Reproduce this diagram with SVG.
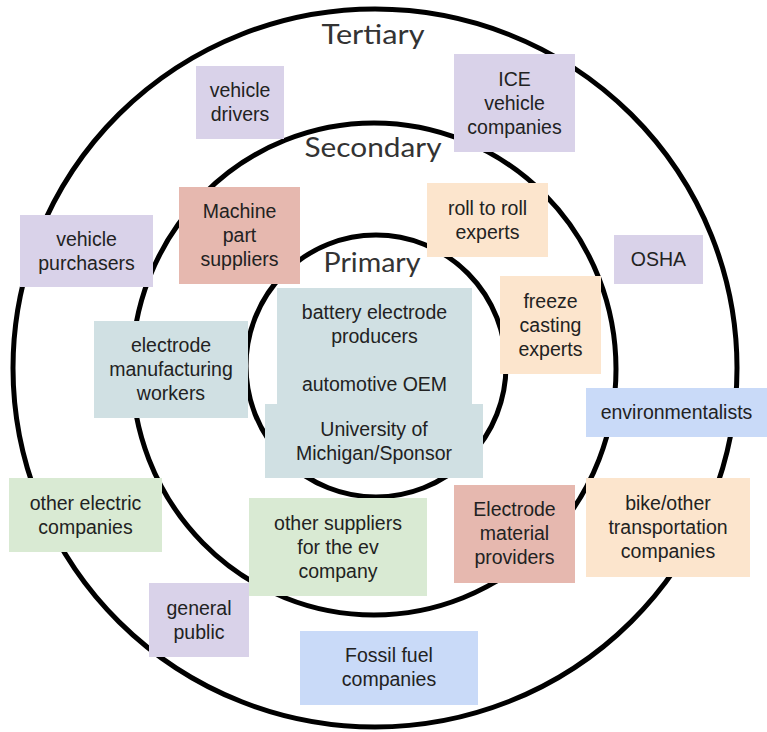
<svg xmlns="http://www.w3.org/2000/svg" width="767" height="732" viewBox="0 0 767 732">
<style>
.ring{fill:none;stroke:#000;stroke-width:5}
.lvl{font-family:Lato,"Open Sans",sans-serif;font-size:26px;fill:#333;text-anchor:middle}
.n text{font-family:"Liberation Sans",Arial,sans-serif;font-size:19.5px;fill:#222;text-anchor:middle}
.lav{fill:#d9d2e9}.sal{fill:#e6b8af}.pch{fill:#fce5cd}.tea{fill:#d0e0e3}.blu{fill:#c9daf8}.grn{fill:#d9ead3}
</style>
<rect width="767" height="732" fill="#fff"/>
<g id="rings">
<ellipse class="ring" cx="375" cy="368" rx="362" ry="359"/>
<ellipse class="ring" cx="374" cy="369" rx="242" ry="246"/>
<ellipse class="ring" cx="376" cy="366" rx="130" ry="131"/>
</g>
<g id="levels">
<text class="lvl" x="373" y="44" textLength="103" lengthAdjust="spacingAndGlyphs">Tertiary</text>
<text class="lvl" x="373" y="157" textLength="137" lengthAdjust="spacingAndGlyphs">Secondary</text>
<text class="lvl" x="372" y="272" textLength="97" lengthAdjust="spacingAndGlyphs">Primary</text>
</g>
<g id="connectors"></g>
<g id="vehicle-drivers" class="n"><rect class="lav" x="196" y="66" width="88" height="73"/><text x="240" y="97">vehicle</text><text x="240" y="121">drivers</text></g>
<g id="ice-vehicle-companies" class="n"><rect class="lav" x="454" y="54" width="121" height="98"/><text x="514.5" y="85.5">ICE</text><text x="514.5" y="109.5">vehicle</text><text x="514.5" y="133.5">companies</text></g>
<g id="vehicle-purchasers" class="n"><rect class="lav" x="20" y="215" width="133" height="72"/><text x="86.5" y="245.5">vehicle</text><text x="86.5" y="269.5">purchasers</text></g>
<g id="machine-part-suppliers" class="n"><rect class="sal" x="179" y="187" width="121" height="97"/><text x="239.5" y="217.5">Machine</text><text x="239.5" y="241.5">part</text><text x="239.5" y="265.5">suppliers</text></g>
<g id="roll-to-roll-experts" class="n"><rect class="pch" x="427" y="183" width="121" height="74"/><text x="487.5" y="214.5">roll to roll</text><text x="487.5" y="238.5">experts</text></g>
<g id="osha" class="n"><rect class="lav" x="614" y="235" width="89" height="49"/><text x="658.5" y="266">OSHA</text></g>
<g id="freeze-casting-experts" class="n"><rect class="pch" x="500" y="276" width="101" height="98"/><text x="550.5" y="307.5">freeze</text><text x="550.5" y="331.5">casting</text><text x="550.5" y="355.5">experts</text></g>
<g id="battery-electrode-producers" class="n"><rect class="tea" x="277" y="288" width="195" height="75"/><text x="374.5" y="319">battery electrode</text><text x="374.5" y="343">producers</text></g>
<g id="automotive-oem" class="n"><rect class="tea" x="277" y="362" width="195" height="43"/><text x="374.5" y="391">automotive OEM</text></g>
<g id="university-of-michigan-sponsor" class="n"><rect class="tea" x="265" y="404" width="218" height="74"/><text x="374" y="435.5">University of</text><text x="374" y="459.5">Michigan/Sponsor</text></g>
<g id="electrode-manufacturing-workers" class="n"><rect class="tea" x="94" y="321" width="154" height="97"/><text x="171" y="351.5">electrode</text><text x="171" y="375.5">manufacturing</text><text x="171" y="399.5">workers</text></g>
<g id="environmentalists" class="n"><rect class="blu" x="586" y="388" width="181" height="49"/><text x="676.5" y="419">environmentalists</text></g>
<g id="other-electric-companies" class="n"><rect class="grn" x="9" y="478" width="153" height="74"/><text x="85.5" y="509.5">other electric</text><text x="85.5" y="533.5">companies</text></g>
<g id="other-suppliers-ev" class="n"><rect class="grn" x="249" y="498" width="178" height="98"/><text x="338" y="529.5">other suppliers</text><text x="338" y="553.5">for the ev</text><text x="338" y="577.5">company</text></g>
<g id="electrode-material-providers" class="n"><rect class="sal" x="454" y="485" width="121" height="98"/><text x="514.5" y="515.5">Electrode</text><text x="514.5" y="539.5">material</text><text x="514.5" y="563.5">providers</text></g>
<g id="bike-other-transportation" class="n"><rect class="pch" x="586" y="478" width="164" height="99"/><text x="668" y="509.5">bike/other</text><text x="668" y="533.5">transportation</text><text x="668" y="557.5">companies</text></g>
<g id="general-public" class="n"><rect class="lav" x="149" y="583" width="100" height="74"/><text x="199" y="614.5">general</text><text x="199" y="638.5">public</text></g>
<g id="fossil-fuel-companies" class="n"><rect class="blu" x="300" y="631" width="178" height="74"/><text x="389" y="661.5">Fossil fuel</text><text x="389" y="685.5">companies</text></g>
</svg>
